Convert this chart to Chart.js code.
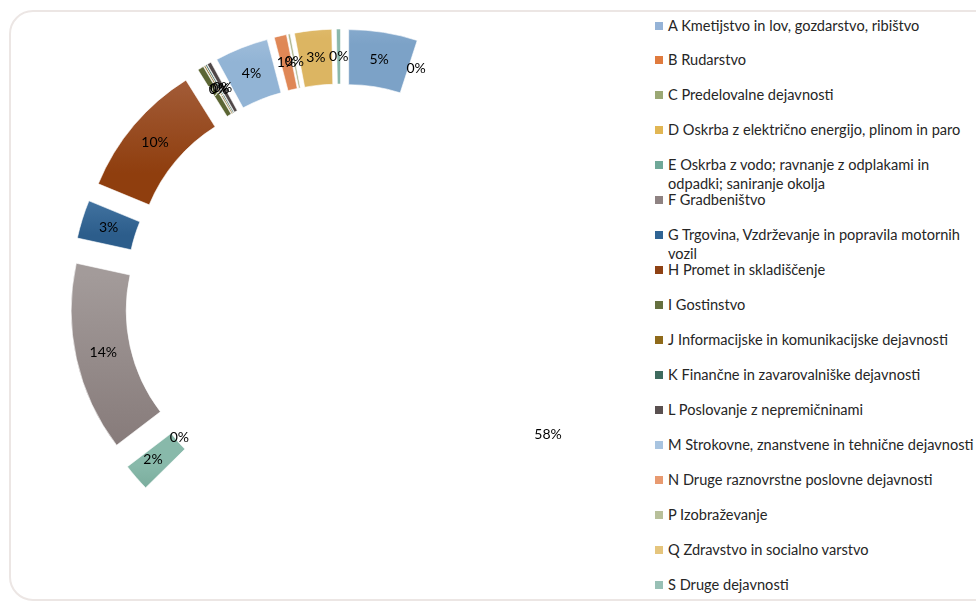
<!DOCTYPE html>
<html>
<head>
<meta charset="utf-8">
<script src="https://cdn.jsdelivr.net/npm/chart.js@4"></script>
<style>
  html, body { margin: 0; padding: 0; background: #fff; overflow: hidden; }
  body { width: 976px; height: 604px; position: relative; font-family: Lato, "Open Sans", sans-serif; }
  #frame { position: absolute; left: 9px; top: 10px; width: 1000px; height: 591px; box-sizing: border-box;
           border: 2px solid #ece6e4; border-radius: 24px; }
  #wrap { position: absolute; left: 41px; top: 0; width: 600px; height: 600px; }
  #legend { position: absolute; left: 655px; top: 0; width: 321px; height: 604px; }
  .item { position: absolute; left: 0; white-space: nowrap; font-size: 14.6px; line-height: 19px; color: #262626; }
  .sw { position: absolute; left: 0; top: 6px; width: 8px; height: 8px; }
  .txt { position: absolute; left: 13px; top: 0; }
</style>
</head>
<body>
<div id="frame"></div>
<div id="wrap"><canvas id="chart"></canvas></div>
<div id="legend"></div>
<script>
// categories (NACE sections)
const categories = [
  'A Kmetijstvo in lov, gozdarstvo, ribištvo',
  'B Rudarstvo',
  'C Predelovalne dejavnosti',
  'D Oskrba z električno energijo, plinom in paro',
  ['E Oskrba z vodo; ravnanje z odplakami in', 'odpadki; saniranje okolja'],
  'F Gradbeništvo',
  ['G Trgovina, Vzdrževanje in popravila motornih', 'vozil'],
  'H Promet in skladiščenje',
  'I Gostinstvo',
  'J Informacijske in komunikacijske dejavnosti',
  'K Finančne in zavarovalniške dejavnosti',
  'L Poslovanje z nepremičninami',
  'M Strokovne, znanstvene in tehnične dejavnosti',
  'N Druge raznovrstne poslovne dejavnosti',
  'P Izobraževanje',
  'Q Zdravstvo in socialno varstvo',
  'S Druge dejavnosti'
];

// share of each section (percent)
const shares = [5.0, 0, 57.7, 0, 2.0, 13.8, 2.8, 9.9, 0.45, 0.1, 0.1, 0.3, 3.9, 0.9, 0.15, 2.7, 0.3];

// colours
const legendColors = ['#95b3d7', '#e07b3e', '#9ba874', '#e1b653', '#6fa898', '#8e8282', '#2f6494', '#8e4114',
  '#65703f', '#8f6a1a', '#3e6b5e', '#595050', '#a8c4e0', '#e89a70', '#b8c09a', '#e5c57d', '#98c0b5'];
const topColors = ['#a2c1dd', '#e78f5c', 'rgba(0,0,0,0)', '#e6c170', '#88b9aa', '#a39b9a', '#4b7ca9', '#a96646',
  '#747d53', '#9c7a2c', '#4d7a6d', '#675f5f', '#b6cee5', '#eca784', '#c2c9a8', '#e8cc8c', '#a4c9be'];
const bottomColors = ['#7ca2c7', '#d46e35', 'rgba(0,0,0,0)', '#d9ab4a', '#679c8c', '#857978', '#2c5d8b', '#8f3e0e',
  '#5b6533', '#825f14', '#365f53', '#4f4747', '#92b4d5', '#df8756', '#aeb68e', '#dcb562', '#8ab7aa'];
const labelColors = shares.map((v, i) => i === 8 ? 'rgba(255,255,255,0.85)' : '#000');

const EXPLODE = 49;          // distance each slice is pulled out
const RADIUS = 222;
const CUTOUT = '75.2%';
const labelNudge = { 2: [0, 6], 3: [12, -33], 4: [-4, 0] };  // shifts of crowded labels

const total = shares.reduce((a, b) => a + b, 0);

function sliceFill(c) {
  const i = c.dataIndex;
  const chart = c.chart;
  const area = chart.chartArea;
  if (!area) return topColors[i];
  let before = 0;
  for (let k = 0; k < i; k++) before += shares[k];
  const a0 = -Math.PI / 2 + before / total * 2 * Math.PI;
  const a1 = a0 + shares[i] / total * 2 * Math.PI;
  const mid = (a0 + a1) / 2;
  const cy = (area.top + area.bottom) / 2 + Math.sin(mid) * EXPLODE;
  const inner = RADIUS * parseFloat(CUTOUT) / 100;
  let ymin = Infinity, ymax = -Infinity;
  for (let s = 0; s <= 20; s++) {
    const a = a0 + (a1 - a0) * s / 20;
    for (const r of [RADIUS, inner]) {
      const y = cy + Math.sin(a) * r;
      ymin = Math.min(ymin, y);
      ymax = Math.max(ymax, y);
    }
  }
  if (ymax - ymin < 1) ymax = ymin + 1;
  const g = chart.ctx.createLinearGradient(0, ymin, 0, ymax);
  g.addColorStop(0, topColors[i]);
  g.addColorStop(1, bottomColors[i]);
  return g;
}

const explodePlugin = {
  id: 'explode',
  beforeDatasetDraw(chart, args) {
    const ctx = chart.ctx;
    args.meta.data.forEach(arc => {
      const { startAngle, endAngle } = arc.getProps(['startAngle', 'endAngle'], true);
      if (endAngle - startAngle <= 0) return;
      const mid = (startAngle + endAngle) / 2;
      ctx.save();
      ctx.translate(Math.cos(mid) * EXPLODE, Math.sin(mid) * EXPLODE);
      arc.draw(ctx);
      ctx.restore();
    });
    return false;
  },
  afterDatasetsDraw(chart) {
    const ctx = chart.ctx;
    const meta = chart.getDatasetMeta(0);
    ctx.save();
    ctx.font = '14px Lato, "Open Sans", sans-serif';
    ctx.textAlign = 'center';
    ctx.textBaseline = 'middle';
    meta.data.forEach((arc, i) => {
      const p = arc.getProps(['x', 'y', 'startAngle', 'endAngle', 'innerRadius', 'outerRadius'], true);
      const mid = (p.startAngle + p.endAngle) / 2;
      const r = (p.innerRadius + p.outerRadius) / 2 + EXPLODE;
      const [dx, dy] = labelNudge[i] || [0, 0];
      const txt = Math.round(shares[i] / total * 100) + '%';
      ctx.fillStyle = labelColors[i];
      ctx.fillText(txt, p.x + Math.cos(mid) * r + dx, p.y + Math.sin(mid) * r + dy);
    });
    ctx.restore();
  }
};

new Chart(document.getElementById('chart'), {
  type: 'doughnut',
  data: {
    labels: categories,
    datasets: [{
      data: shares,
      backgroundColor: sliceFill,
      borderColor: '#ffffff',
      borderWidth: 0.6
    }]
  },
  options: {
    responsive: true,
    maintainAspectRatio: false,
    animation: false,
    radius: RADIUS,
    cutout: CUTOUT,
    layout: { padding: 0 },
    plugins: { legend: { display: false }, tooltip: { enabled: false } }
  },
  plugins: [explodePlugin]
});

// legend on the right
const legend = document.getElementById('legend');
categories.forEach((name, i) => {
  const item = document.createElement('div');
  item.className = 'item';
  item.style.top = (25 + 34.94 * i - 9.5) + 'px';
  const lines = Array.isArray(name) ? name : [name];
  item.innerHTML = `<span class="sw" style="background:${legendColors[i]}"></span>` +
    `<span class="txt">${lines.join('<br>')}</span>`;
  legend.appendChild(item);
});
</script>
</body>
</html>
